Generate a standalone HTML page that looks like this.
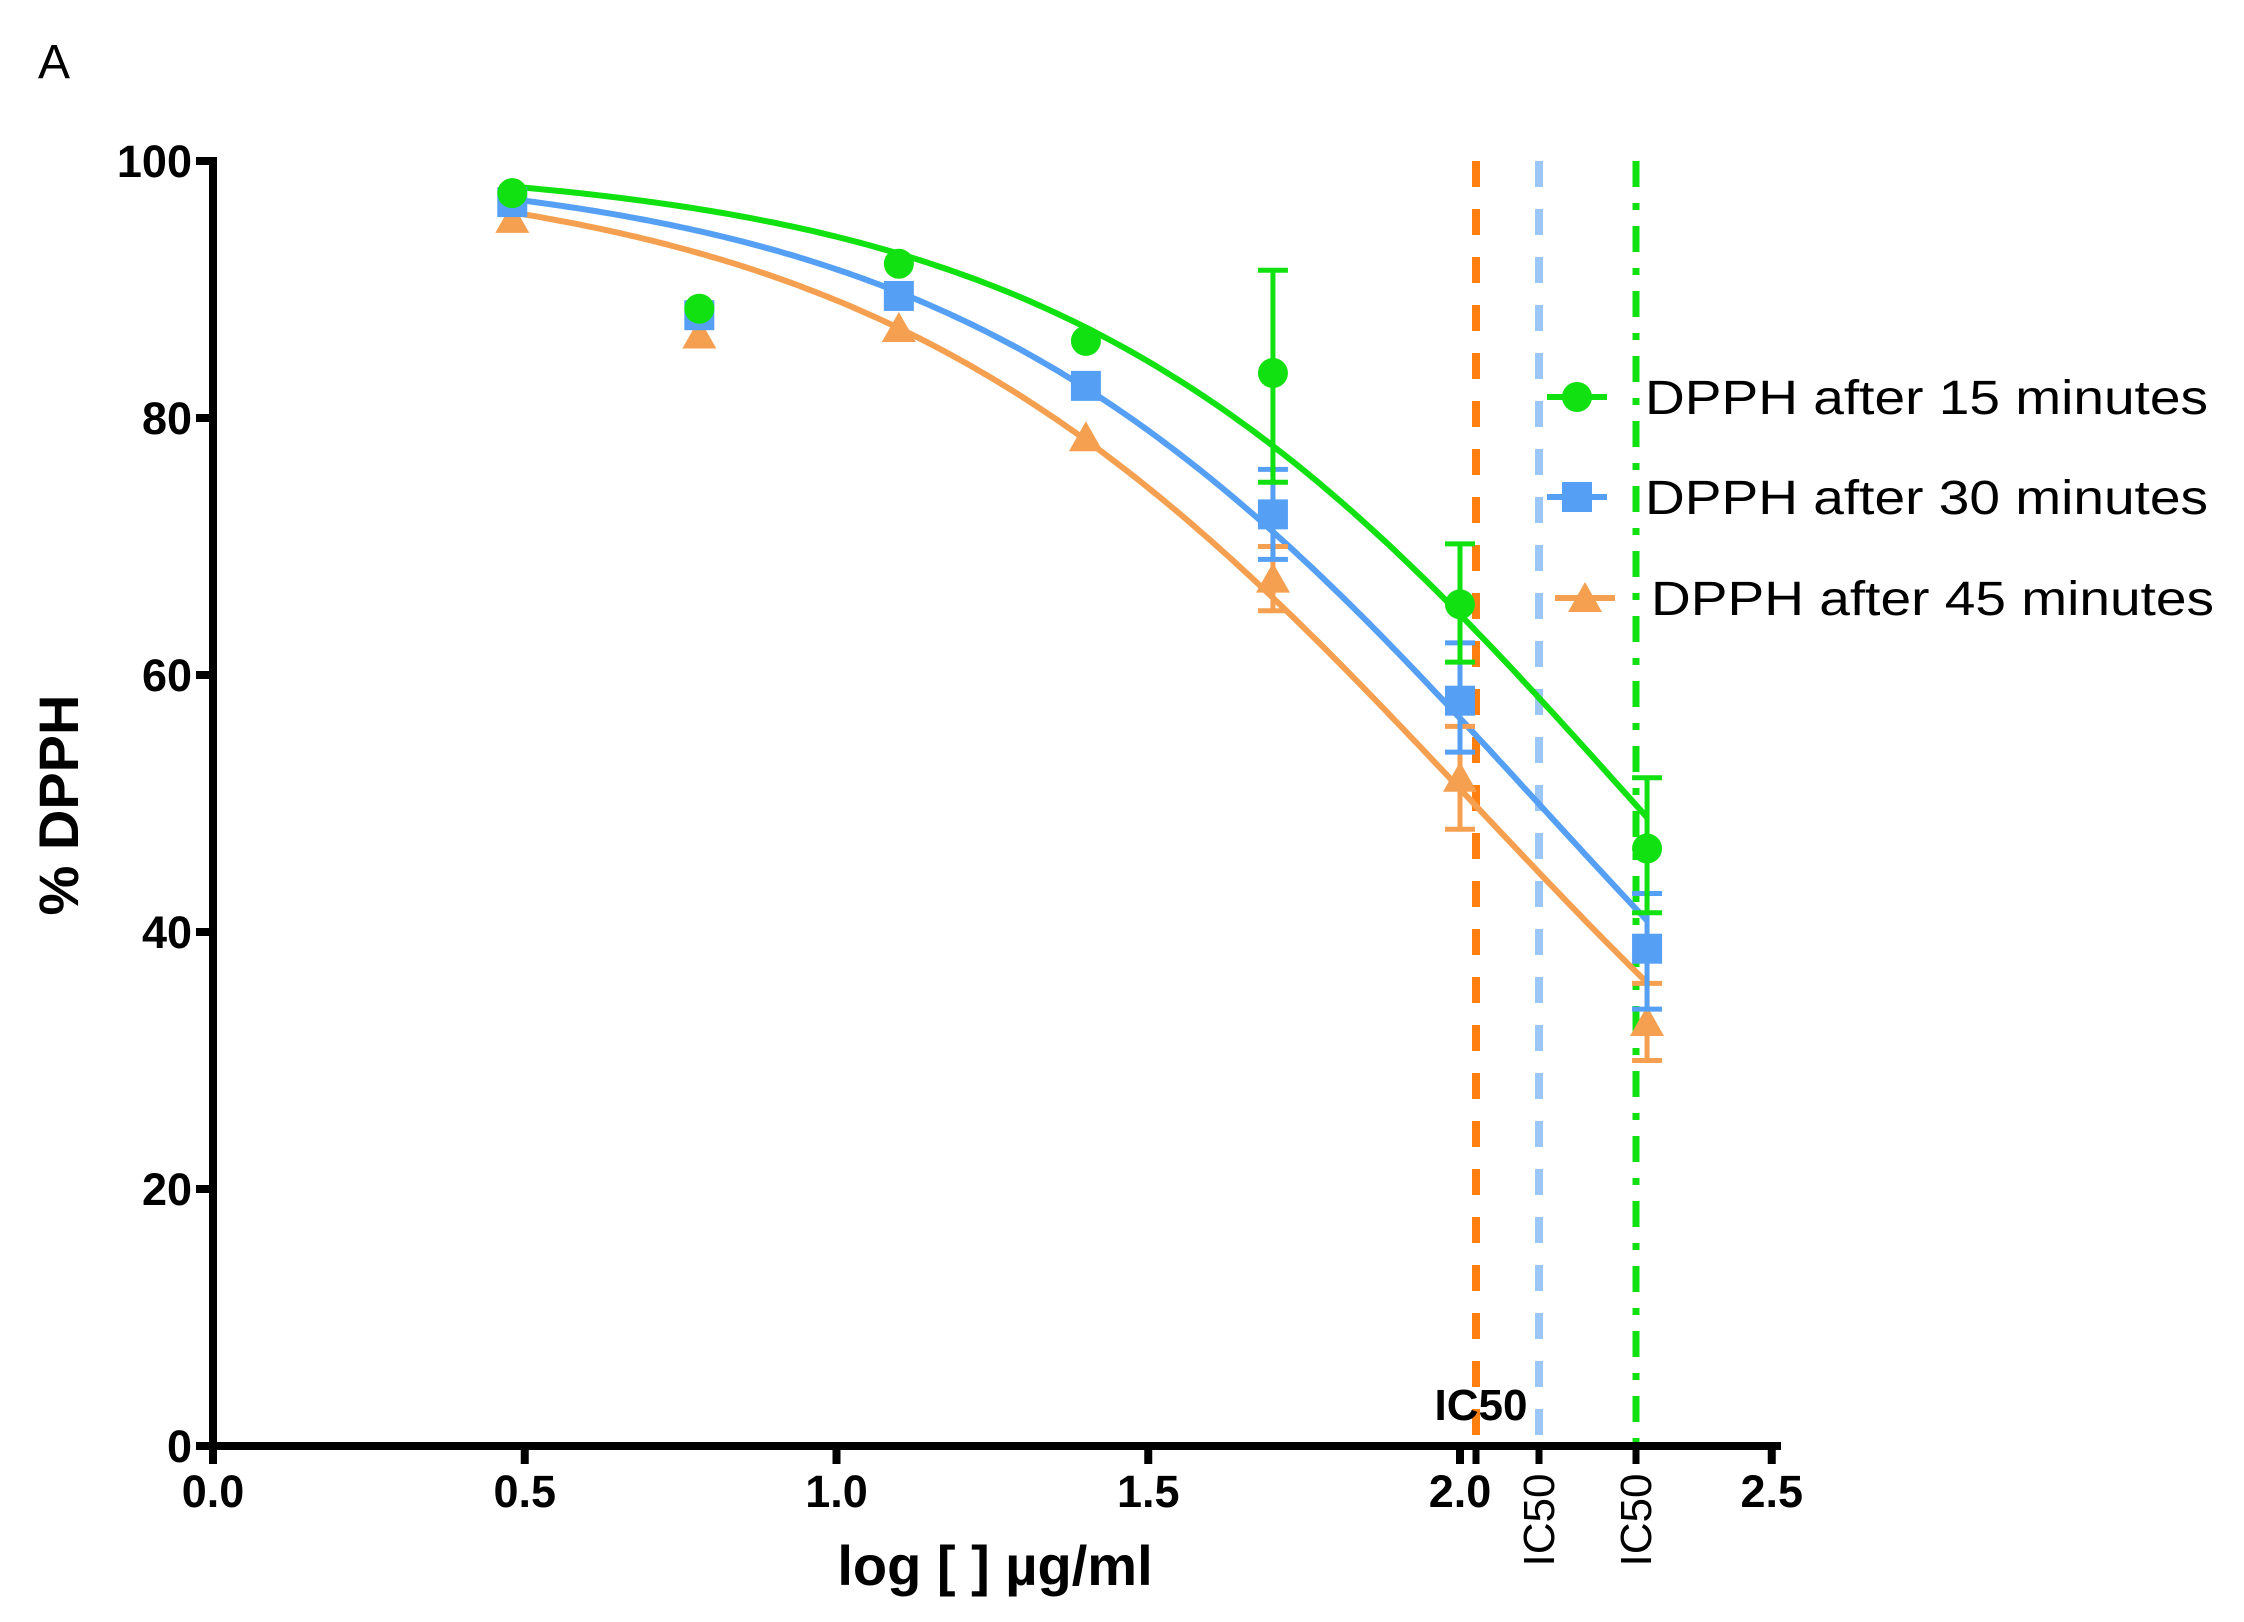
<!DOCTYPE html>
<html><head><meta charset="utf-8"><style>
html,body{margin:0;padding:0;background:#fff}
svg{display:block}
text{font-family:"Liberation Sans",Arial,sans-serif}
</style></head><body>
<svg id="s" width="2244" height="1622" viewBox="0 0 2244 1622" xmlns="http://www.w3.org/2000/svg">
<text x="38" y="78" font-size="48">A</text>
<text transform="translate(78,805) rotate(-90)" font-size="56" font-weight="bold" text-anchor="middle">% DPPH</text>
<text x="995" y="1585" font-size="56" font-weight="bold" text-anchor="middle">log [ ] µg/ml</text>
<g id="g"></g>
</svg>
<script>
const NS="http://www.w3.org/2000/svg",g=document.getElementById('g');
const X=v=>213+v*623.5, Y=v=>1446-v*12.85;
function el(t,a,txt){const e=document.createElementNS(NS,t);for(const k in a)e.setAttribute(k,a[k]);if(txt!==undefined)e.textContent=txt;g.appendChild(e);return e;}
const VL=[1476,1539,1636];
el('line',{x1:VL[0],y1:161,x2:VL[0],y2:1446,stroke:'#ff7f10','stroke-width':8,'stroke-dasharray':'26 22'});
el('line',{x1:VL[1],y1:161,x2:VL[1],y2:1446,stroke:'#9cc6f5','stroke-width':8,'stroke-dasharray':'26 22'});
el('line',{x1:VL[2],y1:161,x2:VL[2],y2:1446,stroke:'#11e011','stroke-width':7,'stroke-dasharray':'26 16 7 16'});
el('line',{x1:213,y1:157,x2:213,y2:1450,stroke:'#000','stroke-width':8});
el('line',{x1:209,y1:1446,x2:1781,y2:1446,stroke:'#000','stroke-width':8});
for(let i=0;i<=5;i++){const y=Y(i*20);el('line',{x1:196,y1:y,x2:213,y2:y,stroke:'#000','stroke-width':8});
el('text',{x:192,y:y+16,'font-size':45,'font-weight':'bold','text-anchor':'end'},String(i*20));}
for(let i=0;i<=5;i++){const x=X(i*0.5);el('line',{x1:x,y1:1446,x2:x,y2:1464,stroke:'#000','stroke-width':8});
el('text',{x:x,y:1507,'font-size':45,'font-weight':'bold','text-anchor':'middle'},(i*0.5).toFixed(1));}
VL.forEach(x=>el('line',{x1:x,y1:1446,x2:x,y2:1464,stroke:'#000','stroke-width':7}));
el('text',{x:1481,y:1420,'font-size':44,'font-weight':'bold','text-anchor':'middle'},'IC50');
el('text',{transform:`translate(${VL[1]+15},1520) rotate(-90)`,'font-size':44,'text-anchor':'middle'},'IC50');
el('text',{transform:`translate(${VL[2]+15},1520) rotate(-90)`,'font-size':44,'text-anchor':'middle'},'IC50');
const S=[
 {c:'#11e011',ic:2.28,h:0.94,m:'c',d:[[0.48,97.5],[0.78,88.5],[1.1,92],[1.4,86],[1.7,83.5,91.5,75],[2.0,65.5,70.2,61],[2.3,46.5,52,41.5]]},
 {c:'#55a0f5',ic:2.126,h:0.92,m:'s',d:[[0.48,96.8],[0.78,88],[1.1,89.5],[1.4,82.5],[1.7,72.5,76,69],[2.0,58,62.5,54],[2.3,38.7,43,34]]},
 {c:'#f5a050',ic:2.022,h:0.895,m:'t',d:[[0.48,95.5],[0.78,86.5],[1.1,87],[1.4,78.5],[1.7,67.5,70,65],[2.0,52,56,48],[2.3,33,36,30]]}
];
function mk(s,x,y){
 if(s.m=='c')el('circle',{cx:x,cy:y,r:15,fill:s.c});
 else if(s.m=='s')el('rect',{x:x-15,y:y-15,width:30,height:30,fill:s.c});
 else el('polygon',{points:`${x},${y-16} ${x+17},${y+14} ${x-17},${y+14}`,fill:s.c});
}
S.slice().reverse().forEach(s=>{
 let p='';for(let i=0;i<=200;i++){const v=0.48+i*(2.3-0.48)/200;const yv=100/(1+Math.pow(10,(v-s.ic)*s.h));p+=(i?'L':'M')+X(v).toFixed(1)+' '+Y(yv).toFixed(1);}
 el('path',{d:p,fill:'none',stroke:s.c,'stroke-width':6});
});
S.slice().reverse().forEach(s=>{
 s.d.forEach(d=>{const x=X(d[0]);
  if(d[2]!==undefined){el('line',{x1:x,y1:Y(d[2]),x2:x,y2:Y(d[3]),stroke:s.c,'stroke-width':5});
   [d[2],d[3]].forEach(v=>el('line',{x1:x-15,y1:Y(v),x2:x+15,y2:Y(v),stroke:s.c,'stroke-width':5}));}
  mk(s,x,Y(d[1]));});
});
const L=[[397,'DPPH after 15 minutes',1645],[497,'DPPH after 30 minutes',1645],[598,'DPPH after 45 minutes',1651]];
L.forEach((l,i)=>{const s=S[i];const lx=i==2?1585:1577;
 el('line',{x1:lx-30,y1:l[0],x2:lx+30,y2:l[0],stroke:s.c,'stroke-width':6});mk(s,lx,l[0]);
 el('text',{x:l[2],y:l[0]+17,'font-size':48,textLength:563,lengthAdjust:'spacingAndGlyphs'},l[1]);});
</script>
</body></html>
